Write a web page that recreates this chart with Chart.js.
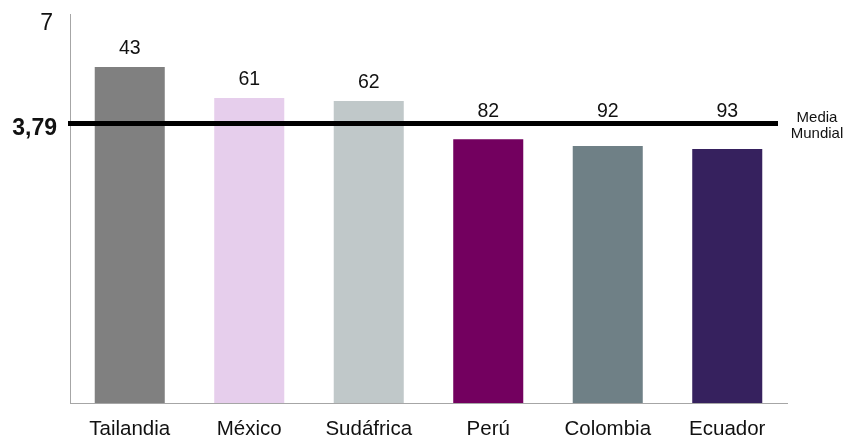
<!DOCTYPE html>
<html>
<head>
<meta charset="utf-8">
<script src="https://cdn.jsdelivr.net/npm/chart.js@4/dist/chart.umd.min.js"></script>
<style>
html,body{margin:0;padding:0;background:#fff;}
#wrap{width:847px;height:437px;}
</style>
</head>
<body>
<div id="wrap"><canvas id="c" width="847" height="437"></canvas></div>
<script>
const categories = ["Tailandia", "México", "Sudáfrica", "Perú", "Colombia", "Ecuador"];
const scores = [5.63, 4.62, 4.52, 3.28, 3.06, 2.96];
const rankLabels = ["43", "61", "62", "82", "92", "93"];
const barColors = ["#808080", "#E6CEEC", "#C0C8C9", "#73005F", "#6F8086", "#36215E"];
const worldMean = 3.79;
const worldMeanLabel = ["Media", "Mundial"];
const yTickValues = [7, worldMean];
const yTickLabels = ["7", "3,79"];
const yMin = -5.3, yMax = 7.35;

const FONT = '"Liberation Sans", Arial, sans-serif';

const meanLinePlugin = {
  id: 'meanLine',
  afterDatasetsDraw(chart) {
    const {ctx, chartArea, scales} = chart;
    const y = scales.y.getPixelForValue(worldMean);
    ctx.save();
    ctx.strokeStyle = '#000';
    ctx.lineWidth = 5;
    ctx.beginPath();
    ctx.moveTo(chartArea.left - 2, y);
    ctx.lineTo(chartArea.right - 9, y);
    ctx.stroke();
    ctx.fillStyle = '#111';
    ctx.font = '15px ' + FONT;
    ctx.textAlign = 'center';
    ctx.textBaseline = 'middle';
    const cx = chartArea.right + 30;
    ctx.fillText(worldMeanLabel[0], cx, y - 6);
    ctx.fillText(worldMeanLabel[1], cx, y + 10);
    // value labels
    const meta = chart.getDatasetMeta(0);
    ctx.font = '19.5px ' + FONT;
    meta.data.forEach((bar, i) => {
      const ly = Math.min(bar.y - 18, y - 12);
      ctx.fillText(rankLabels[i], bar.x, ly);
    });
    // y-axis labels
    ctx.textAlign = 'right';
    yTickValues.forEach((v, i) => {
      const py = scales.y.getPixelForValue(v);
      if (v === worldMean) {
        ctx.font = 'bold 23px ' + FONT;
        ctx.fillText(yTickLabels[i], chartArea.left - 13, py + 5);
      } else {
        ctx.font = '23px ' + FONT;
        ctx.fillText(yTickLabels[i], chartArea.left - 17, py - 1);
      }
    });
    ctx.restore();
  }
};

new Chart(document.getElementById('c'), {
  type: 'bar',
  data: {
    labels: categories,
    datasets: [{
      data: scores,
      base: yMin,
      backgroundColor: barColors,
      borderWidth: 0,
      categoryPercentage: 1,
      barPercentage: 0.586
    }]
  },
  options: {
    responsive: false,
    animation: false,
    devicePixelRatio: 1,
    layout: {padding: {top: 14, right: 60, bottom: 0, left: 0}},
    plugins: {legend: {display: false}, tooltip: {enabled: false}},
    scales: {
      x: {
        grid: {display: false, drawTicks: false},
        border: {display: true, color: '#A6A6A6', width: 1},
        ticks: {
          color: '#111',
          padding: 14,
          font: {family: FONT, size: 20.5}
        },
        afterFit(s) { s.height = 34; s.paddingLeft = 0; s.paddingRight = 0; }
      },
      y: {
        min: yMin,
        max: yMax,
        grid: {display: false, drawTicks: false},
        border: {display: true, color: '#A6A6A6', width: 1},
        afterBuildTicks(s) { s.ticks = yTickValues.map(v => ({value: v})); },
        afterFit(s) { s.width = 70; s.paddingTop = 0; s.paddingBottom = 0; },
        ticks: {display: false}
      }
    }
  },
  plugins: [meanLinePlugin]
});
</script>
</body>
</html>
